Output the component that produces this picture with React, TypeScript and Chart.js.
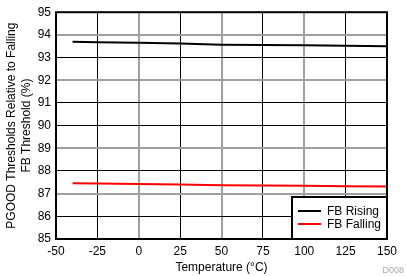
import React, { useEffect, useRef } from "react";
import { Chart, registerables } from "chart.js";

Chart.register(...registerables);

const temperatures = [-40, -25, 0, 25, 50, 75, 100, 125, 150];
const fbRising = [93.7, 93.68, 93.65, 93.62, 93.57, 93.55, 93.54, 93.52, 93.5];
const fbFalling = [87.46, 87.45, 87.42, 87.4, 87.37, 87.36, 87.35, 87.33, 87.32];
const seriesNames = ["FB Rising", "FB Falling"];
const seriesColors = ["#000000", "#ff0000"];
const xTitle = "Temperature (°C)";
const yTitle = ["PGOOD Thresholds Relative to Falling", "FB Threshold (%)"];
const docId = "D008";

const grayY = [94, 92, 89, 87];
const grayX = [0, 50, 100];

const FONT = "'Liberation Sans', Arial, sans-serif";

const framePlugin = {
  id: "frameAndLegend",
  afterDraw(chart: any) {
    const ctx = chart.ctx;
    const a = chart.chartArea;
    ctx.save();
    // frame
    ctx.strokeStyle = "#000";
    ctx.lineWidth = 2;
    ctx.strokeRect(a.left, a.top, a.right - a.left, a.bottom - a.top);
    // legend box
    const bx = 292;
    const by = 197;
    ctx.fillStyle = "#fff";
    ctx.fillRect(bx, by, a.right - bx, a.bottom - by);
    ctx.lineWidth = 2;
    ctx.strokeRect(bx, by, a.right - bx, a.bottom - by);
    ctx.font = `12px ${FONT}`;
    ctx.textBaseline = "middle";
    ctx.textAlign = "left";
    const rows = [211, 224];
    seriesNames.forEach((n, i) => {
      ctx.strokeStyle = seriesColors[i];
      ctx.lineWidth = 2;
      ctx.beginPath();
      ctx.moveTo(298, rows[i]);
      ctx.lineTo(321, rows[i]);
      ctx.stroke();
      ctx.fillStyle = "#000";
      ctx.fillText(n, 327, rows[i] + 0.5);
    });
    // doc id
    ctx.font = `9px ${FONT}`;
    ctx.fillStyle = "#a8a8a8";
    ctx.textAlign = "right";
    ctx.fillText(docId, 404, 271);
    ctx.restore();
  },
};

export default function App() {
  const ref = useRef<HTMLCanvasElement | null>(null);
  useEffect(() => {
    document.body.style.margin = "0";
    const chart = new Chart(ref.current as HTMLCanvasElement, {
      type: "line",
      data: {
        datasets: [
          {
            label: seriesNames[0],
            data: temperatures.map((t, i) => ({ x: t, y: fbRising[i] })),
            borderColor: seriesColors[0],
            borderWidth: 2,
            pointRadius: 0,
            tension: 0,
          },
          {
            label: seriesNames[1],
            data: temperatures.map((t, i) => ({ x: t, y: fbFalling[i] })),
            borderColor: seriesColors[1],
            borderWidth: 2,
            pointRadius: 0,
            tension: 0,
          },
        ],
      },
      options: {
        animation: false,
        responsive: false,
        devicePixelRatio: 1,
        layout: { padding: { left: 0, right: 19, top: 4.5, bottom: 0 } },
        plugins: { legend: { display: false }, tooltip: { enabled: false } },
        scales: {
          x: {
            type: "linear",
            min: -50,
            max: 150,
            afterFit: (s: any) => {
              s.height = 37;
            },
            ticks: {
              stepSize: 25,
              padding: 5,
              color: "#000",
              font: { family: FONT, size: 12 },
              maxRotation: 0,
            },
            grid: {
              drawTicks: false,
              color: (c: any) => (grayX.includes(c.tick?.value) ? "#a0a0a0" : "#000"),
              lineWidth: (c: any) => (grayX.includes(c.tick?.value) ? 2 : 1),
            },
            border: { display: false },
            title: {
              display: true,
              text: xTitle,
              color: "#000",
              font: { family: FONT, size: 12 },
              padding: { top: 0, bottom: 1.5 },
            },
          },
          y: {
            min: 85,
            max: 95,
            afterFit: (s: any) => {
              s.width = 56;
            },
            ticks: {
              stepSize: 1,
              padding: 5,
              color: "#000",
              font: { family: FONT, size: 12 },
            },
            grid: {
              drawTicks: false,
              color: (c: any) => (grayY.includes(c.tick?.value) ? "#a0a0a0" : "#000"),
              lineWidth: (c: any) => (grayY.includes(c.tick?.value) ? 2 : 1),
            },
            border: { display: false },
            title: {
              display: true,
              text: yTitle,
              color: "#000",
              font: { family: FONT, size: 12, lineHeight: 1.25 },
              padding: { top: 4.5, bottom: 0 },
            },
          },
        },
      },
      plugins: [framePlugin],
    });
    return () => chart.destroy();
  }, []);
  return (
    <div style={{ position: "absolute", left: 0, top: 0, width: 406, height: 276 }}>
      <canvas ref={ref} width={406} height={276} style={{ width: 406, height: 276 }} />
    </div>
  );
}
